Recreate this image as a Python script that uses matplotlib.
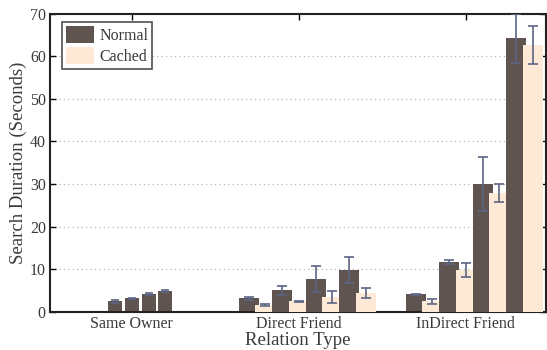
#!/usr/bin/env python3
"""Search duration per relation type, normal vs cached."""

import matplotlib
matplotlib.use("Agg")
import matplotlib.pyplot as plt
import numpy as np

groups = ["Same Owner", "Direct Friend", "InDirect Friend"]

# per group: 4 normal runs, 4 cached runs (Same Owner has no cached bars)
same_owner_normal = [2.5, 3.2, 4.15, 4.9]
same_owner_err = [0.3, 0.2, 0.2, 0.2]

direct_normal = [3.2, 5.1, 7.7, 9.8]
direct_normal_err = [0.3, 1.1, 3.0, 3.0]
direct_cached = [1.65, 2.5, 3.45, 4.4]
direct_cached_err = [0.15, 0.1, 1.45, 1.2]

indirect_normal = [4.2, 11.7, 30.1, 64.2]
indirect_normal_err = [0.1, 0.4, 6.3, 5.8]
indirect_cached = [2.5, 9.8, 27.9, 62.6]
indirect_cached_err = [0.6, 1.7, 2.1, 4.5]

NORMAL = "#5f5450"
CACHED = "#fde9d6"
ERR = "#5c6584"
TXT = "#3a3a3a"

plt.rcParams["font.family"] = ["Liberation Serif"]

fig = plt.figure(figsize=(5.47, 3.5), dpi=100)
ax = fig.add_axes([50 / 547, 38 / 350, 496 / 547, 298.5 / 350])

err_kw = dict(ecolor=ERR, capsize=3.3, elinewidth=1.2, capthick=1.2)

# same owner: narrow bars, no cached run
off_so = np.array([-0.1, 0.0, 0.1, 0.2])
ax.bar(1 + off_so, same_owner_normal, width=0.084, color=NORMAL,
       yerr=same_owner_err, error_kw=dict(err_kw, capsize=3), zorder=2)

off_n = np.array([-0.3, -0.1, 0.1, 0.3])
off_c = off_n + 0.1
for x0, nv, ne, cv, ce in [(2, direct_normal, direct_normal_err, direct_cached, direct_cached_err),
                           (3, indirect_normal, indirect_normal_err, indirect_cached, indirect_cached_err)]:
    for i in range(4):
        ax.bar(x0 + off_n[i], nv[i], width=0.12, color=NORMAL, yerr=ne[i],
               error_kw=err_kw, zorder=2 + 2 * i,
               label="Normal" if (x0 == 2 and i == 0) else None)
        ax.bar(x0 + off_c[i], cv[i], width=0.12, color=CACHED, yerr=ce[i],
               error_kw=err_kw, zorder=3 + 2 * i,
               label="Cached" if (x0 == 2 and i == 0) else None)

ax.set_xlim(0.51, 3.48)
ax.set_ylim(0, 70)
ax.set_yticks(np.arange(0, 71, 10))
ax.set_xticks([1, 2, 3])
ax.set_xticklabels(groups)
ax.yaxis.grid(True, linestyle=(0, (1, 3)), color="#aaaaaa", linewidth=0.8, zorder=0)
ax.set_axisbelow(True)
ax.tick_params(direction="in", top=True, right=True, length=4, width=1,
               labelsize=11.5, colors="black", labelcolor=TXT, pad=3)
for s in ax.spines.values():
    s.set_linewidth(1.5)
    s.set_color("#222222")

ax.set_xlabel("Relation Type", fontsize=13.5, color=TXT, labelpad=0)
ax.set_ylabel("Search Duration (Seconds)", fontsize=13.5, color=TXT, labelpad=2)

leg = ax.legend(loc="upper left", fontsize=11.5, frameon=True, fancybox=False,
                edgecolor="#222222", handlelength=1.75, handleheight=1.25,
                borderpad=0.25, labelspacing=0.2, handletextpad=0.35,
                borderaxespad=0, bbox_to_anchor=(0.024, 0.97))
leg.get_frame().set_linewidth(1.2)
for t in leg.get_texts():
    t.set_color(TXT)

fig.savefig("out.png", dpi=100)
